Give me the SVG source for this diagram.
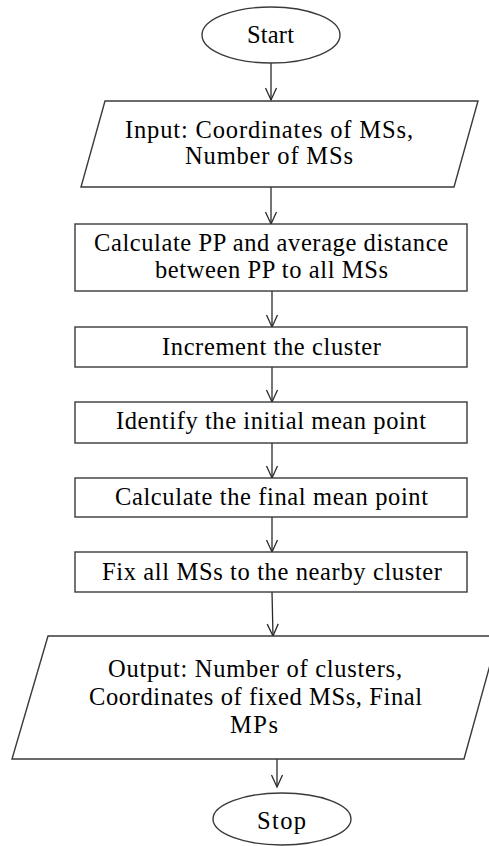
<svg xmlns="http://www.w3.org/2000/svg" width="489" height="846" viewBox="0 0 489 846">
  <style>
    .shape { fill: #ffffff; stroke: #3a3a3a; stroke-width: 1.4; }
    .edge { fill: none; stroke: #2a2a2a; stroke-width: 1.3; }
    .label { font-family: "Liberation Serif", "Times New Roman", serif; font-size: 24.5px; fill: #000000; text-anchor: middle; }
  </style>
  <defs>
    <marker id="vhead" markerUnits="userSpaceOnUse" markerWidth="14" markerHeight="14" refX="0" refY="0" orient="auto" overflow="visible">
      <path d="M-12,-5.5 L0,0 L-12,5.5" fill="none" stroke="#2a2a2a" stroke-width="1.3"/>
    </marker>
  </defs>
  <rect width="489" height="846" fill="#ffffff"/>

  <!-- connectors -->
  <g id="connectors">
    <line class="edge" x1="271" y1="63" x2="271" y2="100" marker-end="url(#vhead)"/>
    <line class="edge" x1="271" y1="187" x2="271" y2="224" marker-end="url(#vhead)"/>
    <line class="edge" x1="272" y1="291" x2="272" y2="327" marker-end="url(#vhead)"/>
    <line class="edge" x1="272" y1="367" x2="272" y2="402" marker-end="url(#vhead)"/>
    <line class="edge" x1="272" y1="443" x2="272" y2="478" marker-end="url(#vhead)"/>
    <line class="edge" x1="272" y1="517" x2="272" y2="552" marker-end="url(#vhead)"/>
    <line class="edge" x1="272" y1="592" x2="273" y2="636" marker-end="url(#vhead)"/>
    <line class="edge" x1="277" y1="759" x2="277" y2="787" marker-end="url(#vhead)"/>
  </g>

  <g id="start">
    <ellipse class="shape" cx="271" cy="35" rx="69" ry="28"/>
    <text class="label" x="270.5" y="43" textLength="47" lengthAdjust="spacing">Start</text>
  </g>

  <g id="input">
    <polygon class="shape" points="105,101 478,101 454,187 81,187"/>
    <text class="label" x="269" y="138" textLength="288" lengthAdjust="spacing">Input:  Coordinates of MSs,</text>
    <text class="label" x="269" y="164" textLength="168" lengthAdjust="spacing">Number of MSs</text>
  </g>

  <g id="calc-pp">
    <rect class="shape" x="75" y="224" width="392" height="67"/>
    <text class="label" x="271" y="251" textLength="354" lengthAdjust="spacing">Calculate PP and average distance</text>
    <text class="label" x="271.5" y="278" textLength="233" lengthAdjust="spacing">between PP to all MSs</text>
  </g>

  <g id="increment">
    <rect class="shape" x="75" y="327" width="392" height="40"/>
    <text class="label" x="271.5" y="355" textLength="219" lengthAdjust="spacing">Increment the cluster</text>
  </g>

  <g id="initial-mean">
    <rect class="shape" x="75" y="402" width="392" height="41"/>
    <text class="label" x="271" y="429" textLength="310" lengthAdjust="spacing">Identify the initial mean point</text>
  </g>

  <g id="final-mean">
    <rect class="shape" x="75" y="478" width="392" height="39"/>
    <text class="label" x="271.5" y="505" textLength="313" lengthAdjust="spacing">Calculate the final mean point</text>
  </g>

  <g id="fix-ms">
    <rect class="shape" x="75" y="552" width="392" height="40"/>
    <text class="label" x="272" y="580" textLength="340" lengthAdjust="spacing">Fix all MSs to the nearby cluster</text>
  </g>

  <g id="output">
    <polygon class="shape" points="48,636 498,636 464,759 12,759"/>
    <text class="label" x="255" y="677" textLength="294" lengthAdjust="spacing">Output: Number of clusters,</text>
    <text class="label" x="255.5" y="705" textLength="333" lengthAdjust="spacing">Coordinates of fixed MSs, Final</text>
    <text class="label" x="254" y="733" textLength="48" lengthAdjust="spacing">MPs</text>
  </g>

  <g id="stop">
    <ellipse class="shape" cx="282" cy="819" rx="69" ry="26"/>
    <text class="label" x="281.5" y="829" textLength="49" lengthAdjust="spacing">Stop</text>
  </g>
</svg>
